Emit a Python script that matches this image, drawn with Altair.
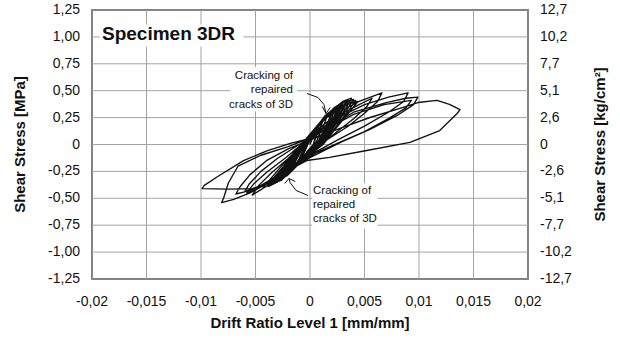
import altair as alt
import pandas as pd

# ---------------- axis ticks / labels ----------------
x_ticks = [-0.02, -0.015, -0.01, -0.005, 0.0, 0.005, 0.01, 0.015, 0.02]
x_labels = ["-0,02", "-0,015", "-0,01", "-0,005", "0", "0,005", "0,01", "0,015", "0,02"]
y_ticks = [1.25, 1.0, 0.75, 0.5, 0.25, 0.0, -0.25, -0.5, -0.75, -1.0, -1.25]
y_labels = ["1,25", "1,00", "0,75", "0,50", "0,25", "0", "-0,25", "-0,50", "-0,75", "-1,00", "-1,25"]
y2_labels = ["12,7", "10,2", "7,7", "5,1", "2,6", "0", "-2,6", "-5,1", "-7,7", "-10,2", "-12,7"]

x_title = "Drift Ratio Level 1 [mm/mm]"
y_title = "Shear Stress [MPa]"
y2_title = "Shear Stress [kg/cm²]"

# ---------------- hysteresis record (drift, stress MPa) ----------------
core_cycles = [
    (0.0, 0.0),
    (0.0004, 0.10), (0.0008, 0.16), (0.0006, 0.10), (0.0003, 0.0), (-0.0003, -0.07), (-0.0008, -0.14), (-0.0005, -0.07), (-0.0002, 0.0),
    (0.0005, 0.12), (0.001, 0.20), (0.0012, 0.22), (0.0009, 0.15), (0.0005, 0.06), (0.0004, 0.0), (-0.0005, -0.10), (-0.001, -0.18), (-0.0012, -0.20), (-0.0008, -0.11), (-0.0003, 0.0),
    (0.0006, 0.15), (0.0013, 0.24), (0.0016, 0.27), (0.0013, 0.19), (0.0008, 0.08), (0.0005, 0.0), (-0.0006, -0.12), (-0.0013, -0.21), (-0.0016, -0.24), (-0.001, -0.13), (-0.0004, 0.0),
    (0.0008, 0.18), (0.0016, 0.28), (0.002, 0.31), (0.0017, 0.22), (0.0011, 0.10), (0.0006, 0.0), (-0.0007, -0.13), (-0.0016, -0.24), (-0.002, -0.27), (-0.0013, -0.15), (-0.0005, 0.0),
    (0.001, 0.21), (0.0019, 0.31), (0.0024, 0.35), (0.002, 0.25), (0.0013, 0.11), (0.0007, 0.0), (-0.0008, -0.15), (-0.0019, -0.27), (-0.0024, -0.30), (-0.0015, -0.16), (-0.0005, 0.0),
    (0.0011, 0.23), (0.0022, 0.34), (0.0028, 0.38), (0.0023, 0.27), (0.0015, 0.12), (0.0008, 0.0), (-0.0009, -0.16), (-0.0021, -0.29), (-0.0027, -0.32), (-0.0017, -0.17), (-0.0006, 0.0),
    (0.0012, 0.24), (0.0025, 0.36), (0.0031, 0.40), (0.0026, 0.29), (0.0017, 0.13), (0.0009, 0.0), (-0.001, -0.17), (-0.0024, -0.31), (-0.003, -0.34), (-0.0019, -0.18), (-0.0006, 0.0),
    (0.0013, 0.25), (0.0028, 0.38), (0.0035, 0.41), (0.0029, 0.30), (0.0019, 0.14), (0.001, 0.0), (-0.0011, -0.18), (-0.0026, -0.33), (-0.0033, -0.36), (-0.0021, -0.19), (-0.0007, 0.0),
    (0.0014, 0.26), (0.0031, 0.39), (0.004, 0.42), (0.0033, 0.31), (0.0021, 0.15), (0.0011, 0.0), (-0.0012, -0.19), (-0.003, -0.35), (-0.0038, -0.39), (-0.0024, -0.20), (-0.0007, 0.0),
    (0.0015, 0.25), (0.0034, 0.37), (0.0044, 0.40), (0.0036, 0.30), (0.0023, 0.14), (0.0012, 0.0), (-0.0013, -0.19), (-0.0033, -0.36), (-0.0043, -0.40), (-0.0027, -0.21), (-0.0008, 0.0),
    (0.0012, 0.23), (0.0025, 0.34), (0.003, 0.37), (0.0025, 0.27), (0.0016, 0.12), (0.0009, 0.0), (-0.001, -0.17), (-0.0024, -0.30), (-0.003, -0.33), (-0.0019, -0.18), (-0.0006, 0.0),
    (0.0013, 0.24), (0.0029, 0.36), (0.0036, 0.39), (0.003, 0.29), (0.0019, 0.13), (0.001, 0.0), (-0.0011, -0.18), (-0.0028, -0.33), (-0.0035, -0.37), (-0.0022, -0.19), (-0.0007, 0.0),
]
core_repeats = [
    (0.0011, 0.22), (0.0021, 0.32), (0.0026, 0.36), (0.0022, 0.26), (0.0014, 0.11), (0.0008, 0.0), (-0.0009, -0.16), (-0.002, -0.28), (-0.0025, -0.31), (-0.0016, -0.17), (-0.0005, 0.0),
    (0.0013, 0.25), (0.0027, 0.37), (0.0033, 0.40), (0.0028, 0.30), (0.0018, 0.13), (0.001, 0.0), (-0.0011, -0.18), (-0.0025, -0.32), (-0.0032, -0.35), (-0.002, -0.19), (-0.0006, 0.0),
    (0.0014, 0.27), (0.003, 0.40), (0.0038, 0.43), (0.0032, 0.32), (0.002, 0.15), (0.0011, 0.0), (-0.0012, -0.19), (-0.0029, -0.34), (-0.0036, -0.38), (-0.0023, -0.20), (-0.0007, 0.0),
    (0.001, 0.20), (0.0018, 0.30), (0.0022, 0.33), (0.0018, 0.24), (0.0012, 0.11), (0.0007, 0.0), (-0.0008, -0.15), (-0.0018, -0.26), (-0.0022, -0.29), (-0.0014, -0.16), (-0.0005, 0.0),
    (0.0015, 0.26), (0.0033, 0.38), (0.0042, 0.41), (0.0035, 0.31), (0.0022, 0.14), (0.0012, 0.0), (-0.0013, -0.20), (-0.0031, -0.35), (-0.004, -0.39), (-0.0025, -0.21), (-0.0008, 0.0),
    (0.0012, 0.24), (0.0024, 0.35), (0.0029, 0.38), (0.0024, 0.28), (0.0015, 0.12), (0.0009, 0.0), (-0.001, -0.17), (-0.0023, -0.30), (-0.0029, -0.33), (-0.0018, -0.18), (-0.0006, 0.0),
]
loop_a = [
    (0.0012, 0.18), (0.003, 0.32), (0.0045, 0.40), (0.0058, 0.45), (0.0066, 0.48), (0.0062, 0.40), (0.005, 0.29), (0.0035, 0.17),
    (0.0015, 0.04), (0.0004, -0.04), (-0.0012, -0.18), (-0.003, -0.32), (-0.0045, -0.42), (-0.0053, -0.47), (-0.0047, -0.38),
    (-0.0035, -0.26), (-0.002, -0.13), (-0.0007, 0.0),
]
loop_b = [
    (0.0012, 0.16), (0.003, 0.29), (0.0045, 0.37), (0.0057, 0.43), (0.0052, 0.35), (0.004, 0.24), (0.0025, 0.12), (0.001, 0.0),
    (-0.001, -0.15), (-0.003, -0.30), (-0.0048, -0.41), (-0.0058, -0.45), (-0.0052, -0.37), (-0.004, -0.26), (-0.0022, -0.12), (-0.0008, 0.0),
]
loop_c = [
    (0.0012, 0.15), (0.003, 0.27), (0.005, 0.37), (0.0072, 0.44), (0.009, 0.48), (0.0086, 0.40), (0.0072, 0.30), (0.005, 0.17),
    (0.0025, 0.04), (0.0005, -0.07), (-0.0015, -0.20), (-0.0035, -0.34), (-0.0055, -0.45), (-0.007, -0.51), (-0.0081, -0.54),
    (-0.0079, -0.49), (-0.0075, -0.36), (-0.0066, -0.20), (-0.0045, -0.10), (-0.002, -0.02), (0.0, 0.06),
]
loop_d = [
    (0.0015, 0.15), (0.004, 0.30), (0.007, 0.39), (0.0088, 0.43), (0.0099, 0.44), (0.0095, 0.37), (0.008, 0.27), (0.0055, 0.14),
    (0.003, 0.03), (0.001, -0.07), (-0.0015, -0.20), (-0.0035, -0.33), (-0.005, -0.41), (-0.006, -0.44), (-0.0056, -0.37),
    (-0.0045, -0.25), (-0.003, -0.13), (-0.001, 0.0),
]
loop_e = [
    (0.0015, 0.14), (0.004, 0.28), (0.0068, 0.37), (0.0093, 0.41), (0.0088, 0.34), (0.0072, 0.24), (0.005, 0.12), (0.0025, 0.01),
    (0.0005, -0.08), (-0.002, -0.23), (-0.0045, -0.38), (-0.006, -0.44), (-0.0068, -0.46), (-0.0064, -0.39), (-0.0055, -0.28),
    (-0.004, -0.15), (-0.002, -0.04), (0.0, 0.04),
]
loop_f = [
    (0.00275, 0.149), (0.0055, 0.251), (0.00825, 0.335), (0.0099, 0.39), (0.01165, 0.41), (0.0128, 0.372), (0.01376, 0.325),
    (0.0135, 0.288), (0.0119, 0.13), (0.00917, 0.019), (0.0052, -0.056), (0.0018, -0.12), (-0.0003, -0.149), (-0.002, -0.24),
    (-0.0035, -0.34), (-0.005, -0.41), (-0.0075, -0.415), (-0.0099, -0.41), (-0.0097, -0.38), (-0.0085, -0.30), (-0.0061, -0.15),
    (-0.0039, -0.056), (-0.0018, 0.01), (0.0, 0.056), (0.002, 0.12),
]

record = core_cycles + core_repeats + loop_a + loop_b + loop_c + loop_d + loop_e + loop_f
df = pd.DataFrame({
    "i": list(range(len(record))),
    "drift": [p[0] for p in record],
    "stress": [p[1] for p in record],
})

# ---------------- annotations ----------------
title_text = "Specimen 3DR"
note_lines = ["Cracking of", "repaired", "cracks of 3D"]

arrow_up = [(-0.00028, 0.474), (0.00073, 0.437), (0.00128, 0.372), (0.00147, 0.288)]
head_up = [(0.00112, 0.353), (0.00147, 0.288), (0.00186, 0.344)]
arrow_lo = [(-0.00018, -0.474), (-0.00128, -0.427), (-0.00183, -0.353), (-0.00193, -0.316)]
head_lo = [(-0.00232, -0.362), (-0.00193, -0.316), (-0.00135, -0.344)]

arrows = []
for k, path in enumerate([arrow_up, head_up, arrow_lo, head_lo]):
    for j, p in enumerate(path):
        arrows.append({"seg": k, "j": j, "drift": p[0], "stress": p[1]})
adf = pd.DataFrame(arrows)

# white label backgrounds (title box, upper note, lower note)
boxes = pd.DataFrame({
    "x1": [-0.0193, -0.0073, 0.0002], "x2": [-0.0061, -0.0012, 0.0062],
    "y1": [1.115, 0.31, -0.36], "y2": [0.91, 0.72, -0.78],
})

FONT = "Liberation Sans"
INK = "#111111"
GRID = "#a3a3a3"

W, H = 436, 269

xscale = alt.Scale(domain=[-0.02, 0.02], nice=False, zero=False)
yscale = alt.Scale(domain=[-1.25, 1.25], nice=False, zero=False)

xdf = pd.DataFrame({"v": x_ticks, "lab": x_labels})
ydf = pd.DataFrame({"v": y_ticks, "lab": y_labels, "lab2": y2_labels})

vgrid = alt.Chart(xdf).mark_rule(color=GRID, strokeWidth=1).encode(
    x=alt.X("v:Q", scale=xscale, axis=None)
)
hgrid = alt.Chart(ydf).mark_rule(color=GRID, strokeWidth=1).encode(
    y=alt.Y("v:Q", scale=yscale, axis=None)
)

base_rect = alt.Chart(boxes).mark_rect(color="white").encode(
    x=alt.X("x1:Q", scale=xscale, axis=None),
    x2="x2:Q",
    y=alt.Y("y1:Q", scale=yscale, axis=None),
    y2="y2:Q",
)

curve = alt.Chart(df).mark_line(color=INK, strokeWidth=1.35, strokeJoin="round").encode(
    x=alt.X("drift:Q", scale=xscale, axis=None),
    y=alt.Y("stress:Q", scale=yscale, axis=None),
    order="i:Q",
)

arrow_lines = alt.Chart(adf).mark_line(color=INK, strokeWidth=1.0).encode(
    x=alt.X("drift:Q", scale=xscale, axis=None),
    y=alt.Y("stress:Q", scale=yscale, axis=None),
    detail="seg:N",
    order="j:Q",
)

xlab = alt.Chart(xdf).mark_text(
    align="center", baseline="middle", font=FONT, fontSize=14, color=INK
).encode(x=alt.X("v:Q", scale=xscale, axis=None), y=alt.value(H + 23), text="lab:N")
ylab = alt.Chart(ydf).mark_text(
    align="right", baseline="middle", font=FONT, fontSize=14, color=INK
).encode(x=alt.value(-12), y=alt.Y("v:Q", scale=yscale, axis=None), text="lab:N")
y2lab = alt.Chart(ydf).mark_text(
    align="left", baseline="middle", font=FONT, fontSize=14, color=INK
).encode(x=alt.value(W + 12), y=alt.Y("v:Q", scale=yscale, axis=None), text="lab2:N")


def txt(s, x, y, align, size=11.5, weight="normal", baseline="middle", angle=0):
    return alt.Chart(pd.DataFrame({"t": [s]})).mark_text(
        align=align, baseline=baseline, font=FONT, fontSize=size, fontWeight=weight,
        color=INK, angle=angle
    ).encode(x=alt.value(x), y=alt.value(y), text="t:N")


texts = [
    txt(title_text, 10, 30, "left", size=19, weight="bold", baseline="alphabetic"),
    txt(note_lines[0], 201, 66, "right"),
    txt(note_lines[1], 201, 80, "right"),
    txt(note_lines[2], 201, 95, "right"),
    txt(note_lines[0], 221, 181, "left"),
    txt(note_lines[1], 221, 195, "left"),
    txt(note_lines[2], 221, 209, "left"),
    txt(x_title, W / 2, H + 44, "center", size=15, weight="bold"),
    txt(y_title, -72, H / 2, "center", size=15, weight="bold", angle=270),
    txt(y2_title, W + 72, H / 2, "center", size=15, weight="bold", angle=270),
]

chart = alt.layer(vgrid, hgrid, base_rect, curve, arrow_lines, xlab, ylab, y2lab, *texts).properties(
    width=W, height=H,
    autosize=alt.AutoSizeParams(type="none"),
    padding={"left": 92, "top": 10, "right": 92, "bottom": 60},
    background="white",
).configure_view(
    stroke="#333333", strokeWidth=1.5,
)

chart.save("out.html", embed_options={"renderer": "svg", "actions": False})
